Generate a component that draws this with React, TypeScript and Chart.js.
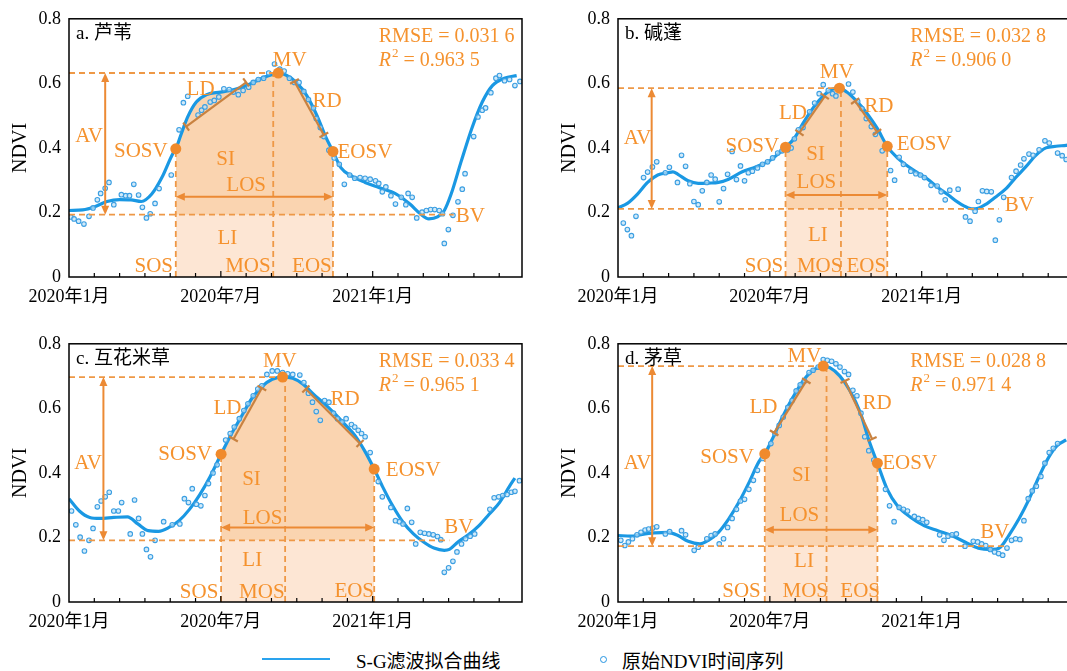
import React, { useEffect, useRef } from "react";
import { Chart, registerables } from "chart.js";
Chart.register(...registerables);

type Pt = [number, number];

// ---------- axes ----------
const X_MAX = 17.9; // months since 2020-01
const xTickMonths = [0, 6, 12];
const xTickLabels = ["2020年1月", "2020年7月", "2021年1月"];
const yTickValues = [0, 0.2, 0.4, 0.6, 0.8];
const yTickLabels = ["0", "0.2", "0.4", "0.6", "0.8"];

// ---------- a. 芦苇 ----------
const reedCurve: Pt[] = [[0,.206],[.54,.208],[1.02,.218],[1.5,.234],[2.0,.240],[2.45,.239],[2.86,.234],[3.27,.257],[3.67,.308],[4.08,.379],[4.22,.397],[4.42,.44],[4.69,.496],[5.03,.542],[5.44,.565],[5.99,.573],[6.53,.581],[7.07,.595],[7.62,.616],[8.1,.629],[8.27,.632],[8.57,.626],[8.98,.603],[9.39,.563],[9.8,.50],[10.14,.435],[10.43,.389],[10.75,.338],[11.16,.313],[11.7,.293],[12.24,.277],[12.93,.257],[13.47,.226],[13.88,.196],[14.22,.180],[14.56,.186],[14.83,.206],[15.1,.257],[15.5,.359],[15.92,.461],[16.33,.542],[16.73,.593],[17.2,.616],[17.69,.624]];
const reedRaw: Pt[] = [[.07,.186],[.20,.180],[.38,.173],[.59,.164],[.79,.188],[.95,.214],[1.12,.239],[1.25,.259],[1.43,.275],[1.58,.293],[1.77,.224],[2.07,.255],[2.24,.252],[2.39,.252],[2.56,.287],[2.75,.254],[2.90,.216],[3.06,.183],[3.21,.196],[3.40,.228],[3.56,.274],[4.04,.316],[4.35,.456],[4.52,.540],[4.69,.560],[5.10,.502],[5.24,.517],[5.37,.527],[5.58,.542],[5.74,.547],[5.92,.558],[6.12,.583],[6.33,.581],[6.50,.573],[6.69,.565],[6.88,.578],[7.10,.588],[7.28,.603],[7.48,.612],[7.69,.616],[7.89,.632],[8.12,.660],[8.33,.644],[8.50,.638],[8.71,.616],[8.91,.603],[9.09,.603],[9.28,.575],[9.46,.550],[9.66,.524],[9.77,.491],[9.93,.463],[10.07,.435],[10.27,.393],[10.48,.369],[10.68,.349],[10.88,.287],[11.09,.316],[11.29,.306],[11.50,.308],[11.70,.306],[11.90,.303],[12.11,.298],[12.24,.290],[12.38,.264],[12.52,.279],[12.72,.252],[12.90,.226],[13.13,.247],[13.31,.224],[13.40,.259],[13.56,.247],[13.74,.183],[13.95,.201],[14.12,.206],[14.29,.209],[14.45,.209],[14.63,.206],[14.76,.196],[14.83,.104],[14.99,.147],[15.17,.191],[15.37,.233],[15.54,.272],[15.65,.320],[15.99,.435],[16.16,.496],[16.33,.517],[16.46,.524],[16.67,.571],[16.87,.616],[17.01,.624],[17.21,.608],[17.41,.612],[17.62,.593],[17.82,.606]];
const reedPheno = { sos: 4.22, sosv: .397, mos: 8.07, mvAt: 8.27, mv: .632, eos: 10.43, eosv: .389, bv: .193, bvEnd: 15.2, los: .249, av: 1.43 };
const reedLD: Pt[] = [[4.63,.466],[7.0,.603]];
const reedRD: Pt[] = [[8.91,.606],[10.07,.44]];
const reedStats = ["0.031 6", "0.963 5"];

// ---------- b. 碱蓬 ----------
const suaedaCurve: Pt[] = [[0,.214],[.37,.228],[.77,.257],[1.17,.293],[1.57,.316],[1.97,.323],[2.17,.326],[2.37,.318],[2.77,.298],[3.17,.290],[3.57,.291],[3.97,.293],[4.37,.303],[4.91,.326],[5.44,.341],[6.0,.361],[6.37,.384],[6.62,.402],[6.97,.430],[7.31,.476],[7.71,.524],[8.11,.561],[8.44,.581],[8.75,.585],[9.04,.573],[9.44,.544],[9.84,.507],[10.24,.461],[10.64,.405],[11.04,.369],[11.44,.344],[11.84,.323],[12.24,.303],[12.64,.277],[13.04,.255],[13.44,.231],[13.84,.214],[14.11,.211],[14.51,.224],[14.91,.247],[15.31,.272],[15.71,.308],[16.11,.341],[16.51,.377],[16.91,.400],[17.31,.405],[17.71,.408],[17.9,.41]];
const suaedaRaw: Pt[] = [[.21,.167],[.37,.147],[.53,.128],[.71,.188],[1.01,.308],[1.17,.325],[1.36,.341],[1.53,.357],[1.87,.323],[2.03,.340],[2.35,.293],[2.51,.377],[2.67,.343],[2.84,.289],[3.0,.234],[3.17,.224],[3.33,.267],[3.51,.293],[3.68,.316],[3.84,.303],[4.0,.233],[4.17,.274],[4.33,.318],[4.51,.389],[4.68,.302],[4.84,.344],[5.0,.298],[5.15,.323],[5.31,.328],[5.51,.338],[5.71,.349],[5.91,.357],[6.11,.369],[6.31,.384],[6.48,.391],[6.71,.394],[6.84,.400],[6.97,.428],[7.13,.456],[7.31,.463],[7.57,.512],[7.77,.539],[7.95,.568],[8.11,.596],[8.31,.578],[8.48,.568],[8.61,.561],[8.84,.581],[9.11,.598],[9.28,.573],[9.47,.544],[9.64,.522],[9.81,.491],[10.01,.466],[10.17,.442],[10.44,.391],[10.77,.330],[10.93,.300],[11.11,.371],[11.28,.349],[11.57,.328],[11.77,.320],[11.95,.316],[12.11,.308],[12.37,.284],[12.61,.282],[12.77,.264],[12.93,.239],[13.11,.269],[13.44,.272],[13.73,.186],[13.91,.173],[14.11,.204],[14.24,.234],[14.4,.267],[14.57,.265],[14.75,.264],[14.91,.114],[15.07,.177],[15.24,.247],[15.55,.308],[15.73,.328],[15.91,.347],[16.04,.366],[16.24,.381],[16.4,.377],[16.64,.394],[16.87,.422],[17.04,.415],[17.37,.384],[17.55,.376],[17.71,.364]];
const suaedaPheno = { sos: 6.62, sosv: .402, mos: 8.81, mvAt: 8.75, mv: .585, eos: 10.64, eosv: .405, bv: .211, bvEnd: 15.04, los: .254, av: 1.33 };
const suaedaLD: Pt[] = [[7.17,.447],[8.17,.56]];
const suaedaRD: Pt[] = [[9.37,.545],[10.24,.449]];
const suaedaStats = ["0.032 8", "0.906 0"];

// ---------- c. 互花米草 ----------
const spartinaCurve: Pt[] = [[0,.320],[.41,.282],[.82,.262],[1.22,.259],[1.77,.262],[2.31,.264],[2.72,.242],[3.13,.221],[3.54,.219],[3.95,.231],[4.35,.252],[4.76,.287],[5.17,.333],[5.58,.389],[6.01,.458],[6.39,.517],[6.8,.573],[7.21,.629],[7.62,.667],[8.03,.690],[8.44,.697],[8.84,.693],[9.25,.675],[9.66,.644],[10.07,.616],[10.48,.585],[10.88,.552],[11.29,.517],[11.7,.466],[12.06,.412],[12.38,.359],[12.79,.298],[13.2,.247],[13.61,.211],[14.01,.186],[14.42,.167],[14.83,.160],[15.03,.163],[15.37,.186],[15.78,.208],[16.19,.236],[16.6,.272],[17.01,.308],[17.41,.359],[17.62,.384]];
const spartinaRaw: Pt[] = [[.1,.282],[.27,.239],[.44,.201],[.61,.158],[.79,.191],[.95,.228],[1.12,.295],[1.27,.313],[1.43,.326],[1.59,.340],[1.77,.282],[1.95,.282],[2.08,.308],[2.42,.211],[2.59,.316],[2.75,.259],[2.9,.211],[3.06,.163],[3.22,.140],[3.4,.191],[3.74,.249],[4.08,.239],[4.38,.242],[4.56,.320],[4.72,.308],[4.87,.351],[5.03,.303],[5.21,.298],[5.37,.330],[5.51,.367],[5.69,.400],[5.85,.425],[6.05,.461],[6.19,.502],[6.37,.522],[6.53,.542],[6.73,.568],[6.91,.593],[7.07,.614],[7.28,.639],[7.46,.660],[7.62,.670],[7.82,.705],[8.03,.716],[8.23,.716],[8.44,.711],[8.64,.707],[8.84,.705],[9.12,.703],[9.28,.680],[9.46,.647],[9.62,.619],[9.77,.590],[9.93,.563],[10.1,.624],[10.27,.619],[10.45,.585],[10.61,.568],[10.79,.558],[10.95,.568],[11.16,.550],[11.29,.542],[11.43,.532],[11.56,.522],[11.7,.512],[11.9,.463],[12.22,.373],[12.38,.326],[12.72,.293],[12.9,.252],[13.06,.249],[13.2,.242],[13.37,.290],[13.54,.247],[13.7,.180],[13.88,.216],[14.05,.213],[14.22,.211],[14.39,.208],[14.56,.203],[14.69,.193],[14.83,.092],[15.0,.106],[15.17,.126],[15.33,.155],[15.51,.180],[15.67,.196],[15.85,.204],[16.03,.211],[16.63,.287],[16.8,.323],[16.98,.326],[17.14,.330],[17.31,.333],[17.48,.340],[17.62,.343],[17.8,.376]];
const spartinaPheno = { sos: 6.01, sosv: .458, mos: 8.54, mvAt: 8.44, mv: .697, eos: 12.06, eosv: .412, bv: .191, bvEnd: 15.03, los: .231, av: 1.36 };
const spartinaLD: Pt[] = [[6.5,.505],[7.62,.663]];
const spartinaRD: Pt[] = [[9.36,.66],[11.5,.491]];
const spartinaStats = ["0.033 4", "0.965 1"];

// ---------- d. 茅草 ----------
const imperataCurve: Pt[] = [[0,.206],[.51,.204],[.91,.209],[1.44,.214],[1.97,.216],[2.37,.206],[2.77,.188],[3.24,.180],[3.57,.191],[3.97,.216],[4.37,.257],[4.77,.308],[5.17,.369],[5.57,.435],[5.8,.459],[6.11,.507],[6.51,.575],[6.91,.634],[7.31,.685],[7.71,.718],[8.11,.731],[8.37,.726],[8.77,.700],[9.17,.654],[9.57,.588],[9.91,.502],[10.25,.430],[10.64,.349],[11.04,.298],[11.57,.262],[12.11,.236],[12.64,.221],[13.17,.206],[13.71,.186],[14.24,.167],[14.77,.163],[15.11,.170],[15.44,.206],[15.84,.257],[16.24,.318],[16.64,.389],[17.04,.451],[17.37,.486],[17.71,.502]];
const imperataRaw: Pt[] = [[.11,.191],[.27,.175],[.41,.186],[.57,.196],[.75,.208],[.91,.216],[1.07,.223],[1.21,.226],[1.37,.229],[1.53,.233],[1.87,.211],[2.04,.218],[2.51,.221],[2.67,.208],[3.01,.160],[3.17,.170],[3.51,.196],[3.68,.206],[3.84,.211],[4.0,.180],[4.17,.196],[4.33,.231],[4.51,.259],[4.68,.287],[4.84,.313],[5.0,.318],[5.17,.349],[5.35,.377],[5.51,.408],[5.71,.445],[6.04,.491],[6.2,.522],[6.37,.547],[6.53,.573],[6.71,.603],[6.88,.624],[7.04,.654],[7.2,.673],[7.37,.685],[7.55,.711],[7.71,.718],[7.91,.728],[8.11,.751],[8.27,.749],[8.44,.746],[8.61,.738],[8.77,.728],[8.95,.714],[9.11,.705],[9.28,.656],[9.44,.639],[9.6,.585],[9.75,.512],[9.91,.469],[10.11,.440],[10.57,.349],[10.73,.298],[10.91,.249],[11.11,.293],[11.28,.287],[11.44,.282],[11.71,.265],[11.87,.259],[12.04,.255],[12.2,.247],[12.71,.208],[12.88,.191],[13.04,.204],[13.2,.208],[13.37,.211],[13.71,.173],[14.04,.188],[14.21,.186],[14.37,.180],[14.53,.175],[14.71,.163],[14.88,.155],[15.04,.150],[15.2,.145],[15.37,.167],[15.55,.191],[15.71,.196],[15.88,.194],[16.04,.252],[16.21,.320],[16.37,.344],[16.53,.359],[16.71,.389],[16.87,.430],[17.04,.463],[17.2,.476],[17.37,.491]];
const imperataPheno = { sos: 5.8, sosv: .459, mos: 8.24, mvAt: 8.11, mv: .731, eos: 10.25, eosv: .430, bv: .173, bvEnd: 15.3, los: .224, av: 1.35 };
const imperataLD: Pt[] = [[6.17,.524],[7.44,.685]];
const imperataRD: Pt[] = [[8.97,.685],[10.04,.505]];
const imperataStats = ["0.028 8", "0.971 4"];

// ---------- label layout (data coordinates) ----------
type Lab = [string, number, number, CanvasTextAlign];
const reedLabels: Lab[] = [["AV",.79,.435,"center"],["SOSV",3.9,.39,"right"],["EOSV",10.61,.387,"left"],["MV",8.72,.67,"center"],["LD",5.2,.58,"center"],["RD",10.2,.544,"center"],["SI",6.19,.364,"center"],["LOS",7.0,.284,"center"],["LI",6.26,.119,"center"],["SOS",3.35,.033,"center"],["MOS",7.07,.033,"center"],["EOS",9.6,.033,"center"],["BV",15.28,.186,"left"]];
const suaedaLabels: Lab[] = [["AV",.77,.43,"center"],["SOSV",6.37,.405,"right"],["EOSV",11.01,.41,"left"],["MV",8.64,.634,"center"],["LD",6.91,.507,"center"],["RD",10.31,.527,"center"],["SI",7.81,.381,"center"],["LOS",7.84,.293,"center"],["LI",7.9,.129,"center"],["SOS",5.77,.033,"center"],["MOS",7.97,.033,"center"],["EOS",9.81,.033,"center"],["BV",15.28,.221,"left"]];
const spartinaLabels: Lab[] = [["AV",.75,.43,"center"],["SOSV",5.65,.456,"right"],["EOSV",12.52,.408,"left"],["MV",8.33,.744,"center"],["LD",6.26,.601,"center"],["RD",10.91,.629,"center"],["SI",7.21,.379,"center"],["LOS",7.65,.259,"center"],["LI",7.24,.129,"center"],["SOS",5.14,.03,"center"],["MOS",7.62,.03,"center"],["EOS",11.27,.033,"center"],["BV",14.83,.231,"left"]];
const imperataLabels: Lab[] = [["AV",.77,.43,"center"],["SOSV",5.37,.449,"right"],["EOSV",10.44,.428,"left"],["MV",7.37,.761,"center"],["LD",5.75,.603,"center"],["RD",10.24,.616,"center"],["SI",7.24,.391,"center"],["LOS",7.17,.267,"center"],["LI",7.35,.126,"center"],["SOS",4.88,.033,"center"],["MOS",7.4,.033,"center"],["EOS",9.57,.033,"center"],["BV",14.31,.216,"left"]];

const SERIF = '"Liberation Serif", "Times New Roman", "Noto Sans CJK SC", serif';
const ORANGE_TEXT = "#F5922E";
const ORANGE_DASH = "#EE9846";
const ORANGE_ARROW = "#EC8A34";
const ORANGE_DOT = "#F08A2C";
const SLOPE = "#C98240";
const CURVE = "#1A98E3";
const SI_FILL = "rgb(250,212,176)";
const LI_FILL = "rgb(253,230,212)";

interface PanelDef {
  title: string;
  curve: Pt[];
  raw: Pt[];
  pheno: typeof reedPheno;
  ld: Pt[];
  rd: Pt[];
  stats: string[];
  statsAt: number;
  labels: Lab[];
}

const panels: { def: PanelDef; left: number; top: number }[] = [
  { left: 0, top: 0, def: { title: "a. 芦苇", curve: reedCurve, raw: reedRaw, pheno: reedPheno, ld: reedLD, rd: reedRD, stats: reedStats, statsAt: 12.24, labels: reedLabels } },
  { left: 549, top: 0, def: { title: "b. 碱蓬", curve: suaedaCurve, raw: suaedaRaw, pheno: suaedaPheno, ld: suaedaLD, rd: suaedaRD, stats: suaedaStats, statsAt: 11.55, labels: suaedaLabels } },
  { left: 0, top: 325, def: { title: "c. 互花米草", curve: spartinaCurve, raw: spartinaRaw, pheno: spartinaPheno, ld: spartinaLD, rd: spartinaRD, stats: spartinaStats, statsAt: 12.24, labels: spartinaLabels } },
  { left: 549, top: 325, def: { title: "d. 茅草", curve: imperataCurve, raw: imperataRaw, pheno: imperataPheno, ld: imperataLD, rd: imperataRD, stats: imperataStats, statsAt: 11.55, labels: imperataLabels } },
];

function arrow2(ctx: CanvasRenderingContext2D, x1: number, y1: number, x2: number, y2: number) {
  const ang = Math.atan2(y2 - y1, x2 - x1);
  const hl = 9, hw = 4;
  ctx.beginPath();
  ctx.moveTo(x1 + Math.cos(ang) * 3, y1 + Math.sin(ang) * 3);
  ctx.lineTo(x2 - Math.cos(ang) * 3, y2 - Math.sin(ang) * 3);
  ctx.stroke();
  const head = (tx: number, ty: number, a: number) => {
    const bx = tx - Math.cos(a) * hl, by = ty - Math.sin(a) * hl;
    ctx.beginPath();
    ctx.moveTo(tx, ty);
    ctx.lineTo(bx + Math.cos(a + Math.PI / 2) * hw, by + Math.sin(a + Math.PI / 2) * hw);
    ctx.lineTo(bx - Math.cos(a + Math.PI / 2) * hw, by - Math.sin(a + Math.PI / 2) * hw);
    ctx.closePath();
    ctx.fill();
  };
  head(x2, y2, ang);
  head(x1, y1, ang + Math.PI);
}

function makePlugin(p: PanelDef) {
  return {
    id: "phenoAnnot",
    afterDatasetsDraw(chart: any) {
      const { ctx, chartArea: ca } = chart;
      const X = (m: number) => chart.scales.x.getPixelForValue(m);
      const Y = (v: number) => chart.scales.y.getPixelForValue(v);
      const ph = p.pheno;
      ctx.save();
      const seg = (x1: number, y1: number, x2: number, y2: number) => {
        ctx.beginPath(); ctx.moveTo(x1, y1); ctx.lineTo(x2, y2); ctx.stroke();
      };
      // dashed guides
      ctx.strokeStyle = ORANGE_DASH; ctx.lineWidth = 1.8; ctx.setLineDash([6, 4]);
      seg(ca.left, Y(ph.mv), X(ph.mvAt), Y(ph.mv));
      seg(ca.left, Y(ph.bv), X(ph.bvEnd), Y(ph.bv));
      seg(X(ph.sos), ca.bottom, X(ph.sos), Y(ph.sosv));
      seg(X(ph.mos), ca.bottom, X(ph.mos), Y(ph.mv));
      seg(X(ph.eos), ca.bottom, X(ph.eos), Y(ph.eosv));
      ctx.setLineDash([]);
      // arrows
      ctx.strokeStyle = ORANGE_ARROW; ctx.fillStyle = ORANGE_ARROW; ctx.lineWidth = 2;
      arrow2(ctx, X(ph.av), Y(ph.bv), X(ph.av), Y(ph.mv));
      arrow2(ctx, X(ph.sos), Y(ph.los), X(ph.eos), Y(ph.los));
      // LD / RD slopes with end ticks
      ctx.strokeStyle = SLOPE; ctx.lineWidth = 2.2;
      for (const s of [p.ld, p.rd]) {
        const x1 = X(s[0][0]), y1 = Y(s[0][1]), x2 = X(s[1][0]), y2 = Y(s[1][1]);
        seg(x1, y1, x2, y2);
        const a = Math.atan2(y2 - y1, x2 - x1) + Math.PI / 2;
        for (const [tx, ty] of [[x1, y1], [x2, y2]]) {
          seg(tx - Math.cos(a) * 5, ty - Math.sin(a) * 5, tx + Math.cos(a) * 5, ty + Math.sin(a) * 5);
        }
      }
      // key points
      ctx.fillStyle = ORANGE_DOT;
      for (const [m, v] of [[ph.sos, ph.sosv], [ph.mvAt, ph.mv], [ph.eos, ph.eosv]]) {
        ctx.beginPath(); ctx.arc(X(m), Y(v), 5.5, 0, Math.PI * 2); ctx.fill();
      }
      // labels
      ctx.fillStyle = ORANGE_TEXT; ctx.textBaseline = "middle";
      ctx.font = `21px ${SERIF}`;
      for (const [t, m, v, al] of p.labels) {
        ctx.textAlign = al; ctx.fillText(t, X(m), Y(v));
      }
      // stats
      ctx.font = `20px ${SERIF}`; ctx.textAlign = "left";
      const sx = X(p.statsAt);
      ctx.fillText(`RMSE = ${p.stats[0]}`, sx, Y(0.745));
      ctx.font = `italic 20px ${SERIF}`;
      ctx.fillText("R", sx, Y(0.671));
      let w = ctx.measureText("R").width;
      ctx.font = `13px ${SERIF}`;
      ctx.fillText("2", sx + w + 1, Y(0.671) - 7);
      w += ctx.measureText("2").width + 1;
      ctx.font = `20px ${SERIF}`;
      ctx.fillText(` = ${p.stats[1]}`, sx + w, Y(0.671));
      ctx.restore();
    },
    afterDraw(chart: any) {
      const { ctx, chartArea: ca } = chart;
      const X = (m: number) => chart.scales.x.getPixelForValue(m);
      ctx.save();
      // frame
      ctx.strokeStyle = "#000"; ctx.lineWidth = 1.5;
      ctx.strokeRect(ca.left, ca.top, ca.right - ca.left, ca.bottom - ca.top);
      // monthly inner ticks
      ctx.lineWidth = 1.2;
      for (let m = 1; m < X_MAX; m++) {
        const len = m % 6 === 0 ? 6 : 4;
        ctx.beginPath(); ctx.moveTo(X(m), ca.bottom); ctx.lineTo(X(m), ca.bottom - len); ctx.stroke();
      }
      // title
      ctx.fillStyle = "#000"; ctx.textBaseline = "middle"; ctx.textAlign = "left";
      ctx.font = `19px ${SERIF}`;
      ctx.fillText(p.title, ca.left + 7, ca.top + 15);
      // y axis title
      ctx.font = `20px ${SERIF}`; ctx.textAlign = "center";
      ctx.translate(21, (ca.top + ca.bottom) / 2);
      ctx.rotate(-Math.PI / 2);
      ctx.fillText("NDVI", 0, 0);
      ctx.restore();
    },
  };
}

function Panel({ def, left, top }: { def: PanelDef; left: number; top: number }) {
  const ref = useRef<HTMLCanvasElement>(null);
  useEffect(() => {
    const ph = def.pheno;
    const toXY = (a: Pt[]) => a.map(([x, y]) => ({ x, y }));
    const iS = def.curve.findIndex((p) => p[0] >= ph.sos);
    const iE = def.curve.findIndex((p) => p[0] >= ph.eos);
    const seasonPart = def.curve.slice(iS, iE + 1);
    const chart = new Chart(ref.current as HTMLCanvasElement, {
      type: "line",
      data: {
        datasets: [
          {
            data: toXY(def.raw), showLine: false, order: 0,
            pointRadius: 2.3, pointBorderWidth: 1.1,
            pointBorderColor: "#3C9FE2", pointBackgroundColor: "rgba(190,225,247,0.7)",
          },
          {
            data: toXY(def.curve), order: 1, borderColor: CURVE, borderWidth: 3.2,
            pointRadius: 0, cubicInterpolationMode: "monotone", fill: false,
          },
          {
            data: toXY(seasonPart), order: 5, borderColor: "rgba(0,0,0,0)", borderWidth: 0,
            pointRadius: 0, cubicInterpolationMode: "monotone",
            fill: { value: ph.bv }, backgroundColor: SI_FILL,
          },
          {
            data: [{ x: ph.sos, y: ph.bv }, { x: ph.eos, y: ph.bv }], order: 6,
            borderColor: "rgba(0,0,0,0)", borderWidth: 0, pointRadius: 0,
            fill: "origin", backgroundColor: LI_FILL,
          },
        ] as any,
      },
      options: {
        animation: false,
        responsive: false,
        events: [],
        layout: { padding: { top: 17, right: 18, left: 0, bottom: 0 } },
        plugins: { legend: { display: false }, tooltip: { enabled: false } },
        scales: {
          x: {
            type: "linear", min: 0, max: X_MAX,
            afterBuildTicks: (s: any) => { s.ticks = xTickMonths.map((v) => ({ value: v })); },
            afterFit: (s: any) => { s.height = 43; },
            grid: { display: false, drawTicks: false },
            border: { display: false },
            ticks: {
              autoSkip: false, maxRotation: 0, padding: 9, color: "#000",
              font: { family: SERIF, size: 18 },
              callback: (v: any) => { const i = xTickMonths.indexOf(Number(v)); return i >= 0 ? xTickLabels[i] : ""; },
            },
          },
          y: {
            type: "linear", min: 0, max: 0.8,
            afterBuildTicks: (s: any) => { s.ticks = yTickValues.map((v) => ({ value: v })); },
            afterFit: (s: any) => { s.width = 69; },
            grid: { display: false, drawTicks: false },
            border: { display: false },
            ticks: {
              padding: 8, color: "#000", font: { family: SERIF, size: 18 },
              callback: (v: any) => { const i = yTickValues.findIndex((t) => Math.abs(t - Number(v)) < 1e-6); return i >= 0 ? yTickLabels[i] : ""; },
            },
          },
        },
      } as any,
      plugins: [makePlugin(def)],
    });
    return () => chart.destroy();
  }, [def]);
  return (
    <canvas ref={ref} width={540} height={320}
      style={{ position: "absolute", left, top, width: 540, height: 320 }} />
  );
}

export default function App() {
  return (
    <div style={{ position: "absolute", left: 0, top: 0, width: 1067, height: 671, overflow: "hidden", background: "#fff" }}>
      {panels.map((p, i) => <Panel key={i} def={p.def} left={p.left} top={p.top} />)}
      <div style={{ position: "absolute", left: 262, top: 658, width: 68, height: 2, background: "#2AA3EE" }} />
      <div style={{ position: "absolute", left: 356, top: 647, height: 24, display: "flex", alignItems: "center", fontFamily: SERIF, fontSize: 19, color: "#000", whiteSpace: "nowrap" }}>S-G滤波拟合曲线</div>
      <div style={{ position: "absolute", left: 600, top: 656, width: 5, height: 5, border: "1.5px solid #2595E2", borderRadius: "50%" }} />
      <div style={{ position: "absolute", left: 622, top: 647, height: 24, display: "flex", alignItems: "center", fontFamily: SERIF, fontSize: 19, color: "#000", whiteSpace: "nowrap" }}>原始NDVI时间序列</div>
    </div>
  );
}
